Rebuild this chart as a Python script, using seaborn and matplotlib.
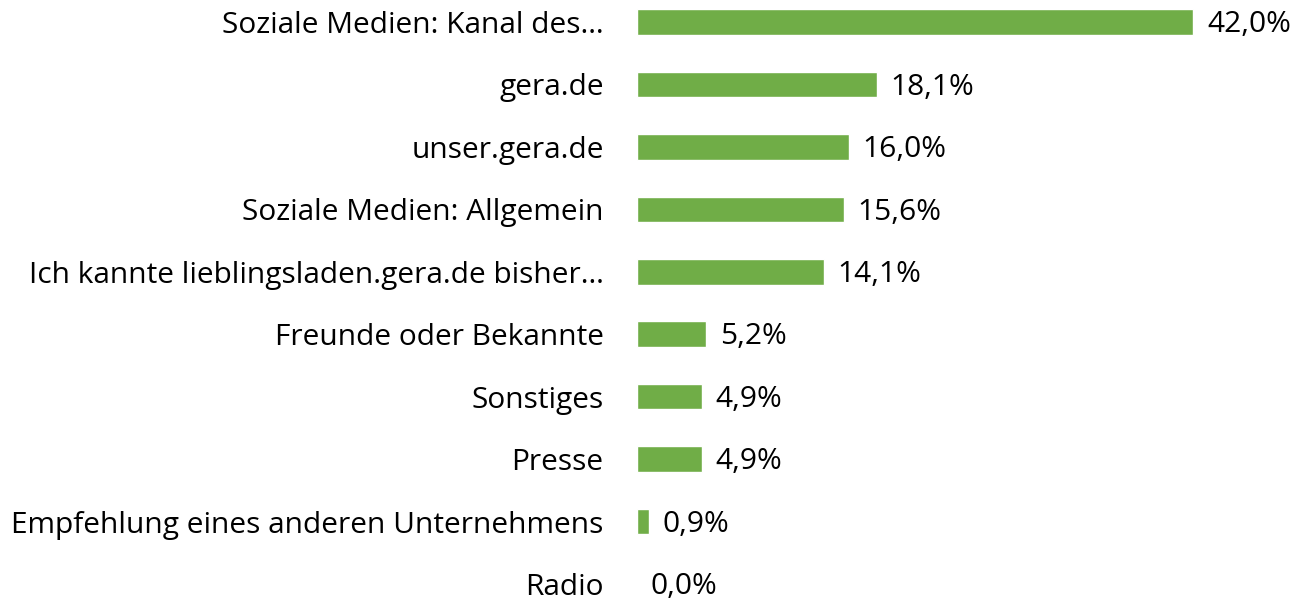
import matplotlib
matplotlib.use('Agg')
import matplotlib.pyplot as plt
import seaborn as sns
import pandas as pd

# Data
categories = [
    'Soziale Medien: Kanal des…',
    'gera.de',
    'unser.gera.de',
    'Soziale Medien: Allgemein',
    'Ich kannte lieblingsladen.gera.de bisher…',
    'Freunde oder Bekannte',
    'Sonstiges',
    'Presse',
    'Empfehlung eines anderen Unternehmens',
    'Radio',
]
values = [42.0, 18.1, 16.0, 15.6, 14.1, 5.2, 4.9, 4.9, 0.9, 0.0]

df = pd.DataFrame({'Kategorie': categories, 'Anteil': values})

sns.set_theme(style='white')
plt.rcParams['font.family'] = ['Open Sans', 'DejaVu Sans']

BAR_COLOR = '#70AD47'
FS = 21.5

fig = plt.figure(figsize=(12.96, 5.98), dpi=100)
ax = fig.add_axes([637 / 1296, 0, 659 / 1296, 1])

sns.barplot(data=df, x='Anteil', y='Kategorie', ax=ax, color=BAR_COLOR,
            width=0.41, saturation=1, orient='h')

ax.set_xlim(0, 659 / 13.24)
ax.set_ylim((598 - 22) / 62.44, -22 / 62.44)

for i, v in enumerate(values):
    label = f'{v:.1f}%'.replace('.', ',')
    ax.annotate(label, xy=(v, i), xytext=(10, -2), textcoords='offset points',
                ha='left', va='center', fontsize=FS, color='black')

ax.set_xlabel('')
ax.set_ylabel('')
ax.set_xticks([])
ax.tick_params(axis='y', length=0, pad=24, labelsize=FS, labelcolor='black')
for s in ax.spines.values():
    s.set_visible(False)

plt.savefig('out.png', dpi=100)
plt.close()
